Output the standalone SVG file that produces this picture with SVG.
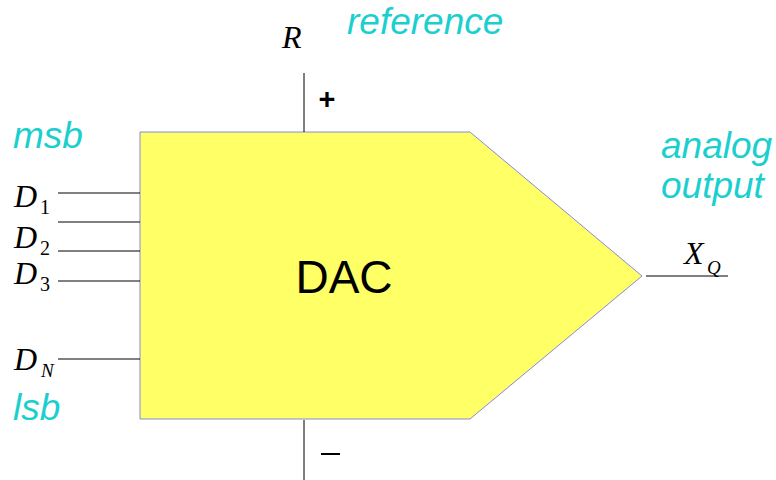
<svg xmlns="http://www.w3.org/2000/svg" width="776" height="480" viewBox="0 0 776 480">
<style>
.lbl{font-family:"Liberation Sans",Arial,sans-serif;font-style:italic;fill:#1ccfcf;font-size:37px}
.m{font-family:"Liberation Serif","Times New Roman",serif;font-style:italic;fill:#000;font-size:32px}
.s{font-family:"Liberation Serif","Times New Roman",serif;fill:#000;font-size:20px}
.si{font-family:"Liberation Serif","Times New Roman",serif;font-style:italic;fill:#000;font-size:19px}
.w{stroke:#000;stroke-width:1;fill:none}
</style>
<rect width="776" height="480" fill="#fff"/>
<g id="dac">
<polygon points="140,132 470,132 642,276 470,419 140,419" fill="#ffff66" stroke="#8888dd" stroke-width="1"/>
<text x="344" y="293" text-anchor="middle" font-family="Liberation Sans,Arial,sans-serif" font-size="46" fill="#000">DAC</text>
</g>
<g id="connectors">
<line class="w" x1="58" y1="193" x2="140" y2="193"/>
<line class="w" x1="58" y1="222" x2="140" y2="222"/>
<line class="w" x1="58" y1="251" x2="140" y2="251"/>
<line class="w" x1="58" y1="281" x2="140" y2="281"/>
<line class="w" x1="58" y1="359" x2="140" y2="359"/>
<line class="w" x1="304" y1="73" x2="304" y2="132"/>
<line class="w" x1="304" y1="420" x2="304" y2="480"/>
<line class="w" x1="646" y1="276" x2="728" y2="276"/>
</g>
<g id="labels">
<text class="lbl" x="13" y="148">msb</text>
<text class="lbl" x="13" y="420">lsb</text>
<text class="lbl" x="347" y="34">reference</text>
<text class="lbl" x="661" y="158">analog</text>
<text class="lbl" x="661" y="198">output</text>
<text class="m" x="14" y="207">D</text><text class="s" x="40" y="214">1</text>
<text class="m" x="14" y="248">D</text><text class="s" x="40" y="255">2</text>
<text class="m" x="14" y="284">D</text><text class="s" x="40" y="291">3</text>
<text class="m" x="14" y="370">D</text><text class="si" x="41" y="377">N</text>
<text class="m" x="282" y="48">R</text>
<text class="m" x="684" y="264">X</text><text class="si" x="707" y="274">Q</text>
<text x="327" y="109" text-anchor="middle" font-family="Liberation Sans,Arial,sans-serif" font-weight="bold" font-size="29" fill="#000">+</text>
<line x1="321" y1="454" x2="340" y2="454" stroke="#000" stroke-width="2"/>
</g>
</svg>
